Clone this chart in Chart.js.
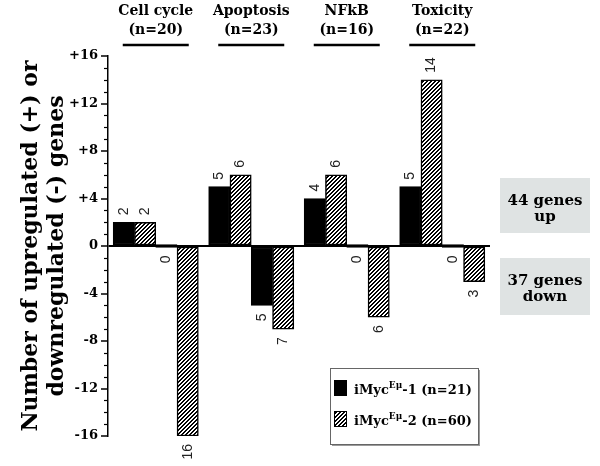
<!DOCTYPE html>
<html>
<head>
<meta charset="utf-8">
<script src="https://cdn.jsdelivr.net/npm/chart.js@4.4.0/dist/chart.umd.min.js"></script>
<style>
  html, body { margin: 0; padding: 0; background: #fff; }
  #wrap { width: 600px; height: 466px; }
</style>
</head>
<body>
<div id="wrap"><canvas id="c" width="600" height="466"></canvas></div>
<script>
"use strict";

// Gene groups (top headers) and group sizes
const CATEGORIES = ['Cell cycle', 'Apoptosis', 'NFkB', 'Toxicity'];
const GROUP_N = ['(n=20)', '(n=23)', '(n=16)', '(n=22)'];

// Number of up (+) / down (-) regulated genes per line
const MYC1_UP = [2, 5, 4, 5];
const MYC2_UP = [2, 6, 6, 14];
const MYC1_DOWN = [0, -5, 0, 0];
const MYC2_DOWN = [-16, -7, -6, -3];

const Y_MIN = -16, Y_MAX = 16, Y_STEP = 4;
const Y_TITLE = ['Number of upregulated (+) or', 'downregulated (-) genes'];

// legend: [base, superscript, rest]
const SERIES = [['iMyc', 'Eμ', '-1 (n=21)'], ['iMyc', 'Eμ', '-2 (n=60)']];
const SUMMARY = [['44 genes', 'up'], ['37 genes', 'down']];

const SERIF = "'DejaVu Serif', serif";
const SANS = "'Liberation Sans', Arial, sans-serif";

function makeHatch() {
  const p = document.createElement('canvas');
  p.width = p.height = 4;
  const g = p.getContext('2d');
  g.fillStyle = '#fff';
  g.fillRect(0, 0, 4, 4);
  g.fillStyle = '#000';
  for (let x = 0; x < 4; x++) {
    g.fillRect(x, 3 - x, 1, 1);
    g.fillRect(x, (4 - x) % 4, 1, 1);
  }
  return g.createPattern(p, 'repeat');
}
const HATCH = makeHatch();

const bar = (data, fill, extra) => Object.assign({
  data, backgroundColor: fill, borderColor: '#000', borderWidth: 1.5,
  borderSkipped: false, barThickness: 21.3
}, extra || {});

// rotated value labels at the bar ends
const valueLabels = {
  id: 'valueLabels',
  afterDatasetsDraw(chart) {
    const ctx = chart.ctx;
    ctx.save();
    ctx.font = '14px ' + SANS;
    ctx.fillStyle = '#222';
    ctx.textBaseline = 'middle';
    chart.data.datasets.forEach((ds, di) => {
      const down = di >= 2;
      chart.getDatasetMeta(di).data.forEach((el, i) => {
        const v = ds.data[i];
        const y = down ? Math.max(el.y, el.base) : el.y;
        ctx.save();
        ctx.translate(el.x, y + (down ? 1 : 0));
        ctx.rotate(-Math.PI / 2);
        ctx.textAlign = down ? 'right' : 'left';
        ctx.fillText(String(Math.abs(v)), down ? -7 : 7, 0);
        ctx.restore();
      });
    });
    ctx.restore();
  }
};

const extras = {
  id: 'extras',
  afterDraw(chart) {
    const ctx = chart.ctx, xs = chart.scales.x, ys = chart.scales.y, area = chart.chartArea;
    ctx.save();
    // header underlines
    ctx.strokeStyle = '#000';
    ctx.lineWidth = 2.5;
    CATEGORIES.forEach((c, i) => {
      const cx = xs.getPixelForTick(i);
      ctx.beginPath();
      ctx.moveTo(cx - 33, area.top - 11);
      ctx.lineTo(cx + 33, area.top - 11);
      ctx.stroke();
    });
    // minor ticks
    ctx.lineWidth = 1.2;
    for (let v = Y_MIN; v <= Y_MAX; v++) {
      if (v % Y_STEP === 0) continue;
      const py = Math.round(ys.getPixelForValue(v)) + 0.5;
      ctx.beginPath();
      ctx.moveTo(area.left - 4, py);
      ctx.lineTo(area.left, py);
      ctx.stroke();
    }
    // legend box
    const lx = 330, ly = 368, lw = 148, lh = 76;
    ctx.fillStyle = '#9a9a9a';
    ctx.fillRect(lx + 2, ly + 2, lw, lh);
    ctx.fillStyle = '#fff';
    ctx.fillRect(lx, ly, lw, lh);
    ctx.strokeStyle = '#666';
    ctx.lineWidth = 1;
    ctx.strokeRect(lx + 0.5, ly + 0.5, lw, lh);
    const fills = ['#000', HATCH];
    SERIES.forEach((s, i) => {
      const base = ly + 26 + i * 31;
      ctx.fillStyle = fills[i];
      ctx.fillRect(334, base - 14, 13, 16);
      ctx.strokeStyle = '#000';
      ctx.lineWidth = 1;
      ctx.strokeRect(334.5, base - 13.5, 12, 15);
      ctx.fillStyle = '#000';
      ctx.textAlign = 'left';
      ctx.textBaseline = 'alphabetic';
      let x = 354;
      ctx.font = 'bold 13px ' + SERIF;
      ctx.fillText(s[0], x, base);
      x += ctx.measureText(s[0]).width;
      ctx.font = 'bold 9px ' + SERIF;
      ctx.fillText(s[1], x, base - 6);
      x += ctx.measureText(s[1]).width;
      ctx.font = 'bold 13px ' + SERIF;
      ctx.fillText(s[2], x, base);
    });
    // summary boxes
    const boxes = [[500, 178, 90, 55], [500, 258, 90, 57]];
    SUMMARY.forEach((lines, i) => {
      const [bx, by, bw, bh] = boxes[i];
      ctx.fillStyle = '#dfe3e3';
      ctx.fillRect(bx, by, bw, bh);
      ctx.fillStyle = '#000';
      ctx.font = 'bold 15px ' + SERIF;
      ctx.textAlign = 'center';
      ctx.fillText(lines[0], bx + bw / 2, by + 27);
      ctx.fillText(lines[1], bx + bw / 2, by + 43);
    });
    ctx.restore();
  }
};

new Chart(document.getElementById('c'), {
  type: 'bar',
  data: {
    labels: CATEGORIES.map((c, i) => [c, GROUP_N[i]]),
    datasets: [
      bar(MYC1_UP, '#000'),
      bar(MYC2_UP, HATCH),
      bar(MYC1_DOWN, '#000', {minBarLength: 3}),
      bar(MYC2_DOWN, HATCH)
    ]
  },
  options: {
    responsive: false,
    animation: false,
    layout: {padding: {left: 19, right: 110, top: 0, bottom: 30}},
    plugins: {legend: {display: false}, tooltip: {enabled: false}},
    scales: {
      x: {
        position: 'top',
        grid: {display: false, drawTicks: false},
        border: {display: false},
        ticks: {color: '#000', padding: 17, font: {family: SERIF, weight: 'bold', size: 14, lineHeight: 1.3}},
        afterFit: s => { s.height = 56; }
      },
      y: {
        min: Y_MIN, max: Y_MAX,
        afterFit: s => { s.width = 89; },
        ticks: {
          stepSize: Y_STEP, color: '#000', padding: 3,
          font: {family: SERIF, weight: 'bold', size: 13},
          callback: v => v > 0 ? '+' + v : String(v)
        },
        grid: {
          drawOnChartArea: true, drawTicks: true, tickLength: 7,
          color: c => (c.tick && c.tick.value === 0) ? '#000' : 'rgba(0,0,0,0)',
          lineWidth: 2, tickColor: '#000', tickWidth: 1.5
        },
        border: {display: true, color: '#000', width: 1.5},
        title: {
          display: true, text: Y_TITLE, color: '#000', padding: 0,
          font: {family: SERIF, weight: 'bold', size: 22, lineHeight: 1.15}
        }
      }
    }
  },
  plugins: [valueLabels, extras]
});
</script>
</body>
</html>
